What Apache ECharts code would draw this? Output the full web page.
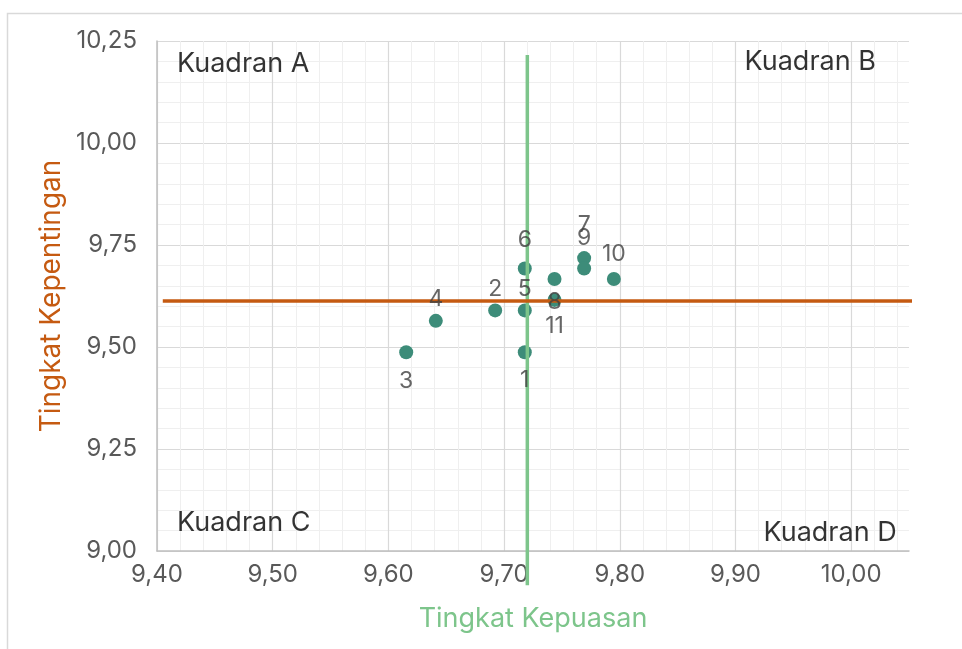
<!DOCTYPE html>
<html><head><meta charset="utf-8">
<script src="https://cdn.jsdelivr.net/npm/echarts@6/dist/echarts.min.js"></script>
<style>html,body{margin:0;padding:0;background:#fff}#c{width:962px;height:649px}</style>
</head><body><div id="c"></div>
<script>
// ---- data ----
const pointNames  = ['1','2','3','4','5','6','7','8','9','10','11'];
const kepuasan    = [9.7179, 9.6923, 9.6154, 9.6410, 9.7179, 9.7179, 9.7692, 9.7436, 9.7692, 9.7949, 9.7436];
const kepentingan = [9.4872, 9.5897, 9.4872, 9.5641, 9.5897, 9.6923, 9.7179, 9.6667, 9.6923, 9.6667, 9.6154];
const meanKepuasan = 9.7201;
const meanKepentingan = 9.6130;
const xTickValues = [9.40, 9.50, 9.60, 9.70, 9.80, 9.90, 10.00];
const xTickLabels = ['9,40','9,50','9,60','9,70','9,80','9,90','10,00'];
const yTickValues = [9.00, 9.25, 9.50, 9.75, 10.00, 10.25];
const yTickLabels = ['9,00','9,25','9,50','9,75','10,00','10,25'];
const quadrantNames = ['Kuadran A','Kuadran B','Kuadran C','Kuadran D'];

// ---- layout (annotation anchors, in data units) ----
const quadrantX = [9.4173, 9.9078, 9.4173, 9.9242];
const quadrantY = [10.1934, 10.198, 9.069, 9.044];
const hLineExtent = [9.405, 10.074];
const vLineExtent = [8.916, 10.2155];
const labelSide = ['bottom','top','bottom','top','top','top','top','bottom','top','top','bottom'];
const labelGap  = [9, 3, 10, 3, 3, 10, 15, 5, 12, 6, 8];

const FONT = 'Inter';
function fmt(values, labels) {
  return function (v) {
    for (let i = 0; i < values.length; i++) if (Math.abs(values[i] - v) < 1e-6) return labels[i];
    return '';
  };
}
const pts = kepuasan.map((x, i) => [x, kepentingan[i]]);
const labelPts = pts.map((p, i) => ({
  value: p, name: pointNames[i],
  label: { position: labelSide[i], distance: labelGap[i] }
}));
const quadPts = quadrantNames.map((n, i) => ({ value: [quadrantX[i], quadrantY[i]], name: n }));

const chart = echarts.init(document.getElementById('c'));
chart.setOption({
  animation: false,
  backgroundColor: '#fff',
  textStyle: { fontFamily: FONT },
  graphic: [{
    type: 'rect', left: 5, top: 11, z: -10,
    shape: { x: 0, y: 0, width: 1000, height: 1000 },
    style: { fill: 'none', stroke: '#d9d9d9', lineWidth: 1.5 }
  }],
  grid: { left: 157, right: 53, top: 41, bottom: 98, containLabel: false, outerBoundsMode: 'none' },
  xAxis: [{
    // minor grid axis
    type: 'value', position: 'bottom', min: 9.4, max: 10.05, interval: 0.02,
    axisLine: { show: false }, axisTick: { show: false }, axisLabel: { show: false },
    splitLine: { show: true, showMaxLine: false, lineStyle: { color: '#efefef', width: 1 } }
  }, {
    type: 'value', position: 'bottom', min: 9.4, max: 10.05, interval: 0.1,
    name: 'Tingkat Kepuasan', nameLocation: 'middle', nameGap: 54,
    nameTextStyle: { color: '#7dc58b', fontSize: 27, fontFamily: FONT },
    axisLine: { show: true, lineStyle: { color: '#bfbfbf', width: 1.5 } },
    axisTick: { show: false },
    axisLabel: { formatter: fmt(xTickValues, xTickLabels), showMaxLabel: false, margin: 12,
      color: '#595959', fontSize: 24, fontFamily: FONT },
    splitLine: { show: true, showMaxLine: false, lineStyle: { color: '#d9d9d9', width: 1.2 } }
  }],
  yAxis: {
    type: 'value', min: 9, max: 10.25, interval: 0.25,
    name: 'Tingkat Kepentingan', nameLocation: 'middle', nameGap: 91,
    nameTextStyle: { color: '#c55a11', fontSize: 28, fontFamily: FONT },
    axisLine: { show: true, lineStyle: { color: '#bfbfbf', width: 1.5 } },
    axisTick: { show: false },
    minorTick: { show: false, splitNumber: 5 },
    minorSplitLine: { show: true, lineStyle: { color: '#efefef', width: 1 } },
    axisLabel: { formatter: fmt(yTickValues, yTickLabels), margin: 20,
      color: '#595959', fontSize: 24, fontFamily: FONT },
    splitLine: { show: true, lineStyle: { color: '#d9d9d9', width: 1.2 } }
  },
  series: [{
    name: 'points', type: 'scatter', xAxisIndex: 1, z: 2,
    symbolSize: 14, itemStyle: { color: '#3d8c79', opacity: 1 },
    data: pts
  }, {
    name: 'vline', type: 'line', xAxisIndex: 1, z: 3, clip: false,
    symbol: 'none', silent: true,
    lineStyle: { color: '#7dc58b', width: 3.5 },
    data: [[meanKepuasan, vLineExtent[0]], [meanKepuasan, vLineExtent[1]]]
  }, {
    name: 'hline', type: 'line', xAxisIndex: 1, z: 4, clip: false,
    symbol: 'none', silent: true,
    lineStyle: { color: '#c55a11', width: 3.5 },
    data: [[hLineExtent[0], meanKepentingan], [hLineExtent[1], meanKepentingan]]
  }, {
    name: 'labels', type: 'scatter', xAxisIndex: 1, z: 5,
    symbolSize: 14, itemStyle: { color: 'rgba(0,0,0,0)' },
    label: { show: true, formatter: '{b}', color: '#404040', fontSize: 23, fontFamily: FONT },
    data: labelPts
  }, {
    name: 'quadrants', type: 'scatter', xAxisIndex: 1, z: 5,
    symbolSize: 0, itemStyle: { color: 'rgba(0,0,0,0)' },
    label: { show: true, position: 'right', distance: 0, formatter: '{b}',
      color: '#000', fontSize: 27, fontFamily: FONT },
    data: quadPts
  }]
});
</script>
</body></html>
